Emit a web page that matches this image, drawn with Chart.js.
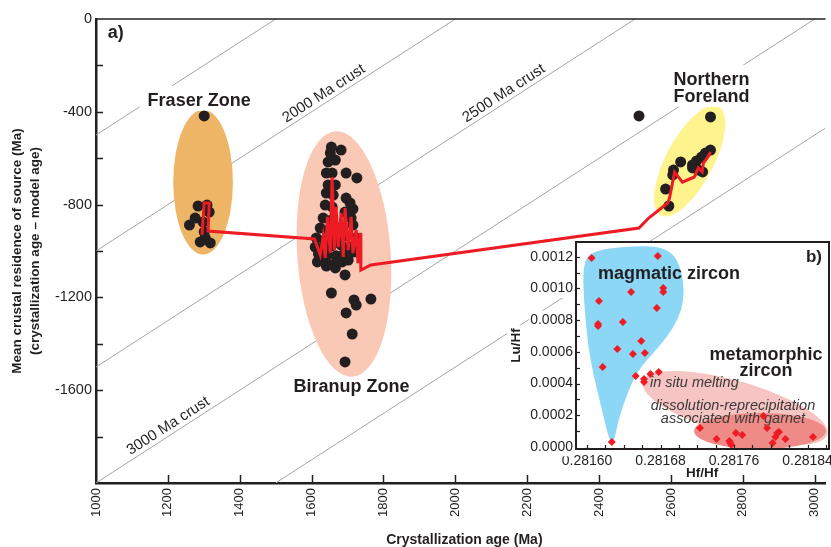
<!DOCTYPE html>
<html>
<head>
<meta charset="utf-8">
<script src="https://cdn.jsdelivr.net/npm/chart.js"></script>
<style>
html,body{margin:0;padding:0;background:#fff;overflow:hidden}
#wrap{position:relative;width:831px;height:547px;overflow:hidden;background:#fff}
canvas{position:absolute;display:block}
#main{left:0;top:0}
#inset{left:500px;top:230px}
</style>
</head>
<body>
<div id="wrap"><canvas id="main" width="831" height="547"></canvas><canvas id="inset" width="345" height="250"></canvas></div>
<script>
// ================= DATA : panel a =================
const xTicks = [1000,1200,1400,1600,1800,2000,2200,2400,2600,2800,3000];
const yTicks = [0,-200,-400,-600,-800,-1000,-1200,-1400,-1600,-1800,-2000];
const yTickLabels = [0,-400,-800,-1200,-1600];
const crustAges = [1500,2000,2500,3000,3500];
const crustLabelAges = [2000,2500,3000];
const crustLabelAt = [1647,2148,1214];

const fraserAge = [1301,1284,1309,1260,1276,1298,1301,1290,1318,1304,1315];
const fraserRes = [-418,-806,-802,-888,-858,-875,-918,-961,-965,-944,-832];

const biranupAge = [1655,1652,1682,1646,1666,1641,1657,1696,1726,1646,1666,1641,1660,1696,1707,1715,1638,1657,1693,1632,1655,1710,1624,1646,1677,1715,1613,1635,1663,1690,1724,1610,1630,1655,1682,1707,1619,1644,1668,1690,1718,1616,1638,1663,1685,1702,1641,1666,1693,1655,1718,1724,1765,1696,1713,1693];
const biranupRes = [-552,-578,-565,-616,-608,-664,-664,-664,-685,-715,-715,-750,-759,-772,-793,-819,-802,-810,-832,-858,-866,-858,-901,-909,-901,-888,-944,-953,-944,-935,-944,-983,-987,-978,-974,-983,-1013,-1017,-1021,-1013,-1004,-1047,-1039,-1056,-1047,-1039,-1065,-1073,-1103,-1181,-1211,-1233,-1207,-1267,-1358,-1478];

const northAge = [2511,2710,2710,2696,2685,2671,2660,2676,2688,2660,2627,2607,2605,2585,2594];
const northRes = [-418,-422,-565,-578,-595,-612,-629,-651,-659,-642,-616,-651,-672,-733,-806];

const trendAge = [1295,1301,1315,1312,1608,1624,1632,1638,1644,1652,1657,1663,1668,1674,1682,1688,1693,1702,1710,1715,1724,1729,1735,1737,1765,2511,2538,2591,2596,2610,2632,2665,2676,2687,2690,2701,2710];
const trendRes = [-930,-793,-793,-914,-948,-1017,-940,-1030,-853,-1009,-681,-996,-810,-983,-836,-1026,-815,-996,-853,-1009,-909,-1052,-922,-1082,-1060,-901,-858,-793,-772,-660,-703,-681,-642,-659,-621,-599,-573];

// ================= DATA : panel b =================
const insetXTicks = [0.28160,0.28168,0.28176,0.28184];
const insetXMinor = [0.28160,0.28162,0.28164,0.28166,0.28168,0.28170,0.28172,0.28174,0.28176,0.28178,0.28180,0.28182,0.28184,0.28186];
const insetYTicks = [0,0.0002,0.0004,0.0006,0.0008,0.0010,0.0012];
const insetYMinor = [0.0001,0.0003,0.0005,0.0007,0.0009,0.0011];

const magmaticHf = [0.281605,0.281677,0.281613,0.281648,0.281683,0.281683,0.281676,0.281612,0.281612,0.281639,0.281659,0.281633,0.281650,0.281663,0.281617,0.281653,0.281662,0.281662,0.281669,0.281678,0.281627];
const magmaticLu = [0.001192,0.001205,0.000921,0.000978,0.001003,0.000978,0.000877,0.000776,0.000763,0.000789,0.000669,0.000618,0.000587,0.000593,0.000505,0.000448,0.000429,0.000410,0.000461,0.000473,0.000032];
const metaHf = [0.281723,0.281741,0.281755,0.281756,0.281757,0.281762,0.281769,0.281792,0.281796,0.281802,0.281805,0.281807,0.281809,0.281816,0.281846];
const metaLu = [0.000120,0.000050,0.000038,0.000025,0.000013,0.000088,0.000076,0.000196,0.000120,0.000025,0.000063,0.000088,0.000095,0.000050,0.000063];

// magmatic field outline (data units)
const blueFieldHf = [0.281596,0.281601,0.281623,0.281658,0.281680,0.281694,0.281702,0.281706,0.281703,0.281694,0.281680,0.281665,0.281654,0.281644,0.281634,0.281629,0.281624,0.281615,0.281607,0.281601,0.281598,0.281596];
const blueFieldLu = [0.001129,0.001218,0.001255,0.001268,0.001262,0.001218,0.001129,0.000991,0.000864,0.000751,0.000644,0.000549,0.000467,0.000341,0.000170,0.000019,0.000044,0.000265,0.000454,0.000644,0.000833,0.000991];

// ================= STYLE / LAYOUT =================
const INK = '#231f20', RED = '#ed1c24', GREY = '#a5a5a5';
const FONT = "'Liberation Sans', Arial, Helvetica, sans-serif";
Chart.defaults.font.family = FONT;
Chart.defaults.color = INK;

const XMIN = 1000, XMAX = 3030, YMIN = -2000, YMAX = 0;
const ellipsesA = [
  {cx:1298, cy:-703, rx:83, ry:312, rot:0, color:'#eeb566'},
  {cx:1690, cy:-1013, rx:130, ry:530, rot:-4, color:'#f9c9b5'},
  {cx:2652, cy:-612, rx:66, ry:265, rot:28, color:'#fff38d'}
];
const regionLabels = [
  {lines:['a)'], x:1033, y:-82, align:'left', box:false},
  {lines:['Fraser Zone'], x:1287, y:-375, align:'center', box:true},
  {lines:['Biranup Zone'], x:1711, y:-1608, align:'center', box:false},
  {lines:['Northern','Foreland'], x:2607, y:-284, align:'left', box:true}
];
const pinkEllipse = {cx:0.2817611, cy:0.000246, rx:0.0001045, ry:0.000170, rot:16, color:'#f6c4c3'};
const redEllipse = {cx:0.2817883, cy:0.000101, rx:0.0000718, ry:0.0001136, rot:0, color:'#ee8b87'};

function crustSegment(T){
  const x0 = Math.max(XMIN, T + YMIN), x1 = Math.min(XMAX, T + YMAX);
  return [{x:x0, y:x0 - T}, {x:x1, y:x1 - T}];
}
function zip(a, b){ return a.map((v,i)=>({x:v, y:b[i]})); }
function line(ctx,x0,y0,x1,y1){ ctx.beginPath(); ctx.moveTo(x0,y0); ctx.lineTo(x1,y1); ctx.stroke(); }
function ellipseAt(ctx, xs, ys, e){
  const cx = xs.getPixelForValue(e.cx), cy = ys.getPixelForValue(e.cy);
  const rx = Math.abs(xs.getPixelForValue(e.cx + e.rx) - cx);
  const ry = Math.abs(ys.getPixelForValue(e.cy + e.ry) - cy);
  ctx.beginPath(); ctx.ellipse(cx, cy, rx, ry, e.rot*Math.PI/180, 0, Math.PI*2);
  ctx.fillStyle = e.color; ctx.fill();
}

const mainDecor = {
  id:'mainDecor',
  beforeDatasetDraw(chart, args){
    if (args.index !== 1) return;
    const {ctx, chartArea:a, scales:{x, y}} = chart;
    ctx.save();
    ctx.beginPath(); ctx.rect(a.left, a.top, a.right-a.left, a.bottom-a.top); ctx.clip();
    ellipsesA.forEach(e => ellipseAt(ctx, x, y, e));
    ctx.font = 'bold 18px ' + FONT;
    ctx.fillStyle = '#fff';
    regionLabels.forEach(l => {
      if (!l.box) return;
      const w = Math.max(...l.lines.map(s => ctx.measureText(s).width));
      const px = x.getPixelForValue(l.x), py = y.getPixelForValue(l.y);
      const left = l.align === 'center' ? px - w/2 : px;
      ctx.fillRect(left - 8, py - 20, w + 16, 25 + 17*(l.lines.length-1));
    });
    ctx.restore();
  },
  afterDraw(chart){
    const {ctx, chartArea:a, scales:{x, y}} = chart;
    ctx.save();
    ctx.strokeStyle = INK; ctx.lineWidth = 1.5;
    xTicks.forEach(v => { if (v === XMIN) return; const p = Math.round(x.getPixelForValue(v)) + 0.5; line(ctx, p, a.bottom, p, a.bottom - 8); });
    yTicks.forEach(v => { if (v === YMIN || v === YMAX) return; const p = Math.round(y.getPixelForValue(v)) + 0.5; line(ctx, a.left, p, a.left + 7, p); });
    ctx.lineWidth = 1.5;
    line(ctx, a.left, a.top, a.right, a.top);
    // crust labels
    ctx.fillStyle = INK;
    ctx.font = '15px ' + FONT;
    crustLabelAges.forEach((T, i) => {
      const xv = crustLabelAt[i];
      const p0x = x.getPixelForValue(xv), p0y = y.getPixelForValue(xv - T);
      const p1x = x.getPixelForValue(xv + 100), p1y = y.getPixelForValue(xv + 100 - T);
      const ang = Math.atan2(p1y - p0y, p1x - p0x);
      ctx.save(); ctx.translate(p0x, p0y); ctx.rotate(ang);
      ctx.textAlign = 'center'; ctx.textBaseline = 'alphabetic';
      ctx.fillText(T + ' Ma crust', 0, -4.5);
      ctx.restore();
    });
    // region labels
    ctx.font = 'bold 18px ' + FONT;
    ctx.textBaseline = 'alphabetic';
    regionLabels.forEach(l => {
      ctx.textAlign = l.align;
      const px = x.getPixelForValue(l.x), py = y.getPixelForValue(l.y);
      l.lines.forEach((s, k) => ctx.fillText(s, px, py + 17*k));
    });
    // axis titles
    ctx.font = 'bold 14px ' + FONT;
    ctx.textAlign = 'center';
    ctx.fillText('Crystallization age (Ma)', x.getPixelForValue(2000) + 9, 544);
    ctx.font = 'bold 13.5px ' + FONT;
    const cy = (a.top + a.bottom)/2;
    ctx.save(); ctx.translate(17.5, cy); ctx.rotate(-Math.PI/2); ctx.textBaseline = 'middle';
    ctx.fillText('Mean crustal residence of source (Ma)', 0, 0);
    ctx.fillText('(crystallization age \u2013 model age)', 0, 18);
    ctx.restore();
    ctx.restore();
  }
};

new Chart(document.getElementById('main'), {
  type:'scatter',
  data:{ datasets:[
    {data: zip(trendAge, trendRes), showLine:true, borderColor:RED, borderWidth:3, pointRadius:0, tension:0, borderJoinStyle:'miter', order:0},
    {data: zip(fraserAge, fraserRes).concat(zip(biranupAge, biranupRes), zip(northAge, northRes)), backgroundColor:INK, borderWidth:0, pointRadius:5.5, order:1},
    ...crustAges.map(T => ({data: crustSegment(T), showLine:true, borderColor:GREY, borderWidth:1, pointRadius:0, order:2}))
  ]},
  options:{
    responsive:false, animation:false, events:[],
    layout:{padding:{top:19, right:0, left:0, bottom:0}},
    plugins:{legend:{display:false}, tooltip:{enabled:false}},
    scales:{
      x:{type:'linear', min:XMIN, max:XMAX,
        afterBuildTicks: s => { s.ticks = xTicks.map(v => ({value:v})); },
        afterFit: s => { s.height = 64; s.paddingLeft = 0; s.paddingRight = 0; },
        grid:{display:false, drawTicks:false},
        border:{display:true, color:INK, width:2.5},
        ticks:{minRotation:90, maxRotation:90, autoSkip:false, padding:5, color:INK, font:{size:13}, callback: v => String(v)}},
      y:{type:'linear', min:YMIN, max:YMAX,
        afterBuildTicks: s => { s.ticks = yTicks.map(v => ({value:v})); },
        afterFit: s => { s.width = 96; s.paddingTop = 0; s.paddingBottom = 0; },
        grid:{display:false, drawTicks:false},
        border:{display:true, color:INK, width:2.5},
        ticks:{autoSkip:false, padding:4, color:INK, font:{size:14.5}, callback: v => yTickLabels.includes(v) ? String(v) : ''}}
    }
  },
  plugins:[mainDecor]
});

// ================= INSET (panel b) =================
function smoothClosed(ctx, pts){
  const n = pts.length, mid = (p, q) => [(p[0]+q[0])/2, (p[1]+q[1])/2];
  const m0 = mid(pts[n-1], pts[0]);
  ctx.moveTo(m0[0], m0[1]);
  for (let i = 0; i < n; i++){ const p = pts[i], m = mid(p, pts[(i+1)%n]); ctx.quadraticCurveTo(p[0], p[1], m[0], m[1]); }
  ctx.closePath();
}
const insetDecor = {
  id:'insetDecor',
  beforeDraw(chart){
    const {ctx, chartArea:a} = chart;
    ctx.save(); ctx.fillStyle = '#fff'; ctx.fillRect(a.left, a.top, a.right-a.left, a.bottom-a.top); ctx.restore();
  },
  beforeDatasetsDraw(chart){
    const {ctx, chartArea:a, scales:{x, y}} = chart;
    ctx.save();
    ctx.beginPath(); ctx.rect(a.left, a.top, a.right-a.left, a.bottom-a.top); ctx.clip();
    const pts = blueFieldHf.map((v, i) => [x.getPixelForValue(v), y.getPixelForValue(blueFieldLu[i])]);
    ctx.beginPath(); smoothClosed(ctx, pts); ctx.fillStyle = '#8cd6f6'; ctx.fill();
    ellipseAt(ctx, x, y, pinkEllipse);
    ellipseAt(ctx, x, y, redEllipse);
    ctx.fillStyle = INK; ctx.textBaseline = 'alphabetic';
    ctx.font = 'bold 18px ' + FONT; ctx.textAlign = 'left';
    ctx.fillText('magmatic zircon', x.getPixelForValue(0.281612), y.getPixelForValue(0.00106));
    ctx.textAlign = 'center';
    ctx.fillText('metamorphic', x.getPixelForValue(0.2817948), y.getPixelForValue(0.000549));
    ctx.fillText('zircon', x.getPixelForValue(0.2817948), y.getPixelForValue(0.000448));
    ctx.font = 'bold 17px ' + FONT; ctx.textAlign = 'right';
    ctx.fillText('b)', x.getPixelForValue(0.2818558), y.getPixelForValue(0.001167));
    ctx.fillStyle = '#3a3a3a';
    ctx.font = 'italic 14.5px ' + FONT; ctx.textAlign = 'left';
    ctx.fillText('in situ melting', x.getPixelForValue(0.2816686), y.getPixelForValue(0.000379));
    ctx.textAlign = 'center';
    ctx.fillText('dissolution-reprecipitation', x.getPixelForValue(0.2817589), y.getPixelForValue(0.000233));
    ctx.fillText('associated with garnet', x.getPixelForValue(0.2817589), y.getPixelForValue(0.000151));
    ctx.restore();
  },
  afterDraw(chart){
    const {ctx, chartArea:a, scales:{x, y}} = chart;
    ctx.save();
    ctx.strokeStyle = INK; ctx.lineWidth = 1.2;
    insetYTicks.concat(insetYMinor).forEach(v => { const p = Math.round(y.getPixelForValue(v)) + 0.5; if (p < a.top + 2 || p > a.bottom - 2) return; line(ctx, a.left, p, a.left + 4, p); });
    insetXMinor.forEach(v => { const p = Math.round(x.getPixelForValue(v)) + 0.5; if (p < a.left + 2 || p > a.right - 2) return; line(ctx, p, a.bottom, p, a.bottom - 4); });
    ctx.lineWidth = 2;
    ctx.strokeRect(a.left, a.top, a.right - a.left, a.bottom - a.top);
    ctx.fillStyle = INK; ctx.font = 'bold 13.5px ' + FONT; ctx.textAlign = 'center'; ctx.textBaseline = 'alphabetic';
    ctx.fillText('Hf/Hf', x.getPixelForValue(0.2817252), a.bottom + 28);
    ctx.save(); ctx.translate(a.left - 60, (a.top + a.bottom)/2); ctx.rotate(-Math.PI/2);
    const w = ctx.measureText('Lu/Hf').width;
    ctx.fillStyle = '#fff'; ctx.fillRect(-w/2 - 3, -9, w + 6, 17);
    ctx.fillStyle = INK; ctx.textBaseline = 'middle'; ctx.fillText('Lu/Hf', 0, 0);
    ctx.restore();
    ctx.restore();
  }
};

new Chart(document.getElementById('inset'), {
  type:'scatter',
  data:{ datasets:[
    {data: zip(magmaticHf, magmaticLu), pointStyle:'rectRot', pointRadius:4, backgroundColor:RED, borderColor:RED, borderWidth:0},
    {data: zip(metaHf, metaLu), pointStyle:'rectRot', pointRadius:4, backgroundColor:RED, borderColor:RED, borderWidth:0}
  ]},
  options:{
    responsive:false, animation:false, events:[],
    layout:{padding:{top:12, right:16, left:0, bottom:0}},
    plugins:{legend:{display:false}, tooltip:{enabled:false}},
    scales:{
      x:{type:'linear', min:0.281588, max:0.2818634,
        afterBuildTicks: s => { s.ticks = insetXTicks.map(v => ({value:v})); },
        afterFit: s => { s.height = 31; s.paddingLeft = 0; s.paddingRight = 0; },
        grid:{display:false, drawTicks:false}, border:{display:false},
        ticks:{minRotation:0, maxRotation:0, autoSkip:false, padding:4, color:INK, font:{size:14}, callback: v => v.toFixed(5)}},
      y:{type:'linear', min:-0.0000126, max:0.001293,
        afterBuildTicks: s => { s.ticks = insetYTicks.map(v => ({value:v})); },
        afterFit: s => { s.width = 76; s.paddingTop = 0; s.paddingBottom = 0; },
        grid:{display:false, drawTicks:false}, border:{display:false},
        ticks:{autoSkip:false, padding:3, color:INK, font:{size:14}, showLabelBackdrop:true, backdropColor:'#fff', backdropPadding:1, callback: v => v.toFixed(4)}}
    }
  },
  plugins:[insetDecor]
});
</script>
</body>
</html>
